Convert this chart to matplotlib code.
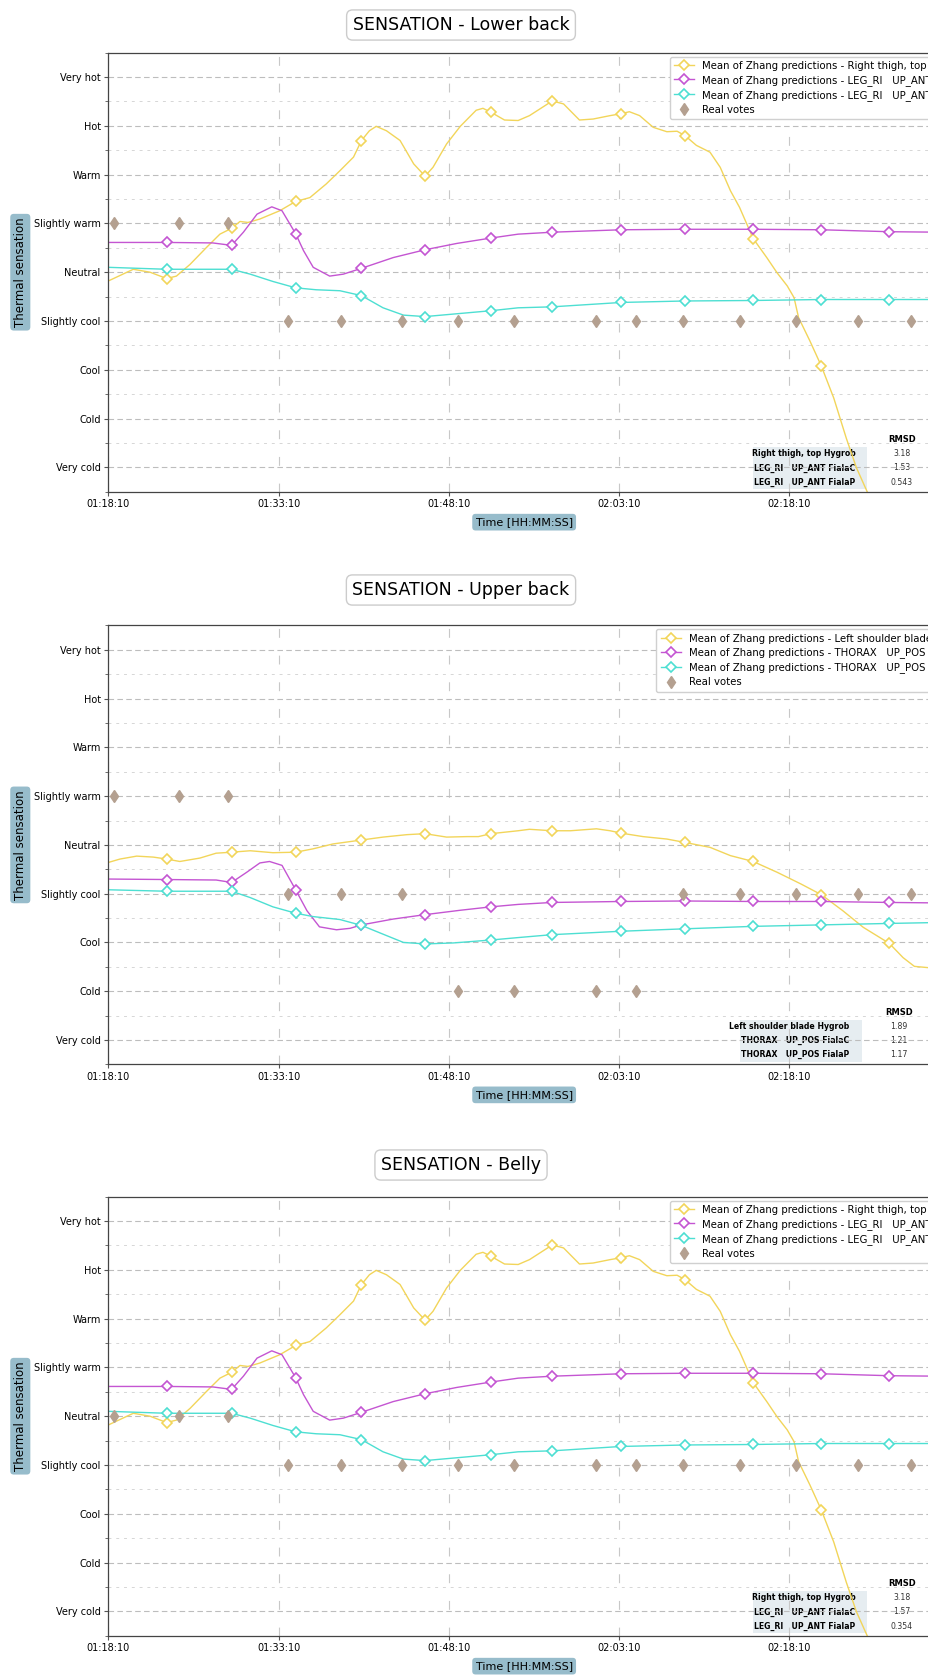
import matplotlib
matplotlib.use("Agg")
import matplotlib.pyplot as plt
from matplotlib.ticker import MultipleLocator

# time axis: minutes after 01:18:10
time_ticks = [0, 15, 30, 45, 60]
time_labels = ["01:18:10", "01:33:10", "01:48:10", "02:03:10", "02:18:10"]
sens_ticks = [-4, -3, -2, -1, 0, 1, 2, 3, 4]
sens_labels = ["Very cold", "Cold", "Cool", "Slightly cool", "Neutral",
               "Slightly warm", "Warm", "Hot", "Very hot"]

# times where the prediction curves carry a marker
mark_t = [5.14, 10.86, 16.5, 22.3, 27.9, 33.7, 39.1, 45.2, 50.8, 56.8, 62.8, 68.8]

# Right thigh, top (Hygrob)
thigh_t = [0, 2.2, 3.67, 5.14, 6.0, 7.2, 8.66, 9.83, 10.86, 11.6, 12.3, 13.35, 15.1,
           16.5, 17.76, 19.2, 20.4, 21.6, 22.3, 23.0, 23.6, 24.5, 25.7, 26.9, 27.9,
           28.6, 29.8, 31.0, 32.4, 33.0, 33.7, 34.9, 36.1, 37.1, 39.1, 40.1, 41.5,
           42.7, 44.2, 45.2, 45.9, 46.8, 48.0, 49.2, 50.1, 50.8, 51.8, 53.0, 53.9,
           54.8, 55.6, 56.8, 58.0, 58.9, 59.8, 60.4, 60.8, 61.8, 62.8, 63.9, 65.0,
           65.9, 66.9, 67.3]
thigh_v = [-0.18, 0.06, 0.0, -0.13, -0.08, 0.16, 0.51, 0.78, 0.9, 1.04, 1.02, 1.09, 1.26,
           1.45, 1.53, 1.81, 2.08, 2.36, 2.70, 2.90, 2.99, 2.90, 2.70, 2.22, 1.97,
           2.15, 2.63, 2.99, 3.32, 3.36, 3.28, 3.12, 3.11, 3.21, 3.51, 3.45, 3.12,
           3.14, 3.21, 3.25, 3.29, 3.21, 2.97, 2.88, 2.89, 2.80, 2.60, 2.46, 2.15,
           1.67, 1.33, 0.69, 0.30, -0.01, -0.28, -0.52, -0.93, -1.41, -1.92, -2.58, -3.40,
           -4.01, -4.53, -4.8]

# LEG_RI UP_ANT FialaC
legc_t = [0, 5.14, 9.2, 10.86, 11.9, 13.1, 14.4, 15.3, 16.5, 17.2, 18.05, 19.5, 20.7,
          22.3, 25.1, 27.9, 30.7, 33.7, 36.1, 39.1, 45.2, 50.8, 56.8, 62.8, 68.8, 73.3]
legc_v = [0.61, 0.61, 0.60, 0.55, 0.82, 1.19, 1.34, 1.26, 0.79, 0.44, 0.10, -0.08, -0.04,
          0.08, 0.30, 0.46, 0.59, 0.70, 0.78, 0.82, 0.87, 0.88, 0.88, 0.87, 0.83, 0.82]

# LEG_RI UP_ANT FialaP
legp_t = [0, 5.14, 10.86, 12.5, 14.5, 16.5, 18.3, 20.4, 22.3, 24.2, 26.0, 27.9, 30.8,
          33.7, 36.1, 39.1, 45.2, 50.8, 56.8, 62.8, 68.8, 73.3]
legp_v = [0.10, 0.06, 0.06, -0.04, -0.19, -0.32, -0.36, -0.38, -0.48, -0.73, -0.88, -0.91,
          -0.85, -0.79, -0.73, -0.71, -0.62, -0.59, -0.58, -0.56, -0.56, -0.56]

# Left shoulder blade (Hygrob)
shoulder_t = [0, 1.03, 2.5, 3.96, 5.14, 6.3, 8.07, 9.5, 10.86, 12.5, 14.5, 16.5, 18.05,
              19.8, 22.3, 24.2, 26.3, 27.9, 29.8, 31.6, 32.6, 33.7, 36.1, 37.1, 39.1,
              40.7, 43.0, 44.2, 45.2, 47.1, 49.2, 50.8, 53.0, 54.8, 56.8, 58.9, 61.0,
              62.8, 64.7, 66.5, 68.8, 70.0, 71.0, 73.3]
shoulder_v = [-0.36, -0.29, -0.23, -0.25, -0.29, -0.34, -0.27, -0.17, -0.15, -0.12, -0.16,
              -0.15, -0.08, 0.02, 0.10, 0.16, 0.21, 0.23, 0.16, 0.17, 0.17, 0.23, 0.29,
              0.32, 0.29, 0.29, 0.33, 0.29, 0.24, 0.17, 0.12, 0.05, -0.05, -0.22, -0.34,
              -0.56, -0.80, -1.02, -1.35, -1.69, -2.02, -2.31, -2.49, -2.54]

# THORAX UP_POS FialaC
thoc_t = [0, 5.14, 9.5, 10.86, 12.2, 13.35, 14.2, 15.3, 16.5, 17.5, 18.6, 20.1, 21.3,
          22.3, 25.1, 27.9, 31.0, 33.7, 36.1, 39.1, 45.2, 50.8, 56.8, 62.8, 68.8, 73.3]
thoc_v = [-0.70, -0.71, -0.72, -0.77, -0.56, -0.37, -0.34, -0.42, -0.92, -1.35, -1.68,
          -1.74, -1.71, -1.64, -1.52, -1.43, -1.34, -1.27, -1.22, -1.18, -1.16, -1.15,
          -1.16, -1.16, -1.18, -1.19]

# THORAX UP_POS FialaP
thop_t = [0, 5.14, 10.86, 12.5, 14.5, 16.5, 18.05, 20.4, 22.3, 24.2, 26.0, 27.9, 30.4,
          33.7, 36.1, 39.1, 45.2, 50.8, 56.8, 62.8, 68.8, 73.3]
thop_v = [-0.92, -0.95, -0.95, -1.08, -1.27, -1.40, -1.47, -1.53, -1.65, -1.83, -2.00,
          -2.03, -2.01, -1.95, -1.90, -1.84, -1.77, -1.72, -1.67, -1.64, -1.61, -1.59]

# real votes
vote_t = [0.5, 6.25, 10.5, 15.8, 20.5, 25.9, 30.8, 35.75, 42.96, 46.5, 50.65, 55.6,
          60.6, 66.0, 70.7]
votes_lower = [1, 1, 1, -1, -1, -1, -1, -1, -1, -1, -1, -1, -1, -1, -1]
votes_upper = [1, 1, 1, -1, -1, -1, -3, -3, -3, -3, -1, -1, -1, -1, -1]
votes_belly = [0, 0, 0, -1, -1, -1, -1, -1, -1, -1, -1, -1, -1, -1, -1]

rmsd_lower = ["3.18", "1.53", "0.543"]
rmsd_upper = ["1.89", "1.21", "1.17"]
rmsd_belly = ["3.18", "1.57", "0.354"]
rows_leg = ["Right thigh, top Hygrob", "LEG_RI   UP_ANT FialaC", "LEG_RI   UP_ANT FialaP"]
rows_thorax = ["Left shoulder blade Hygrob", "THORAX   UP_POS FialaC", "THORAX   UP_POS FialaP"]

labels_leg = ["Mean of Zhang predictions - Right thigh, top",
              "Mean of Zhang predictions - LEG_RI   UP_ANT",
              "Mean of Zhang predictions - LEG_RI   UP_ANT"]
labels_thorax = ["Mean of Zhang predictions - Left shoulder blade",
                 "Mean of Zhang predictions - THORAX   UP_POS",
                 "Mean of Zhang predictions - THORAX   UP_POS"]

YELLOW = "#f2d55a"
PURPLE = "#c455d2"
CYAN = "#4ddfd2"
VOTE = "#b4a090"
BOX = "#97bccb"

panels = [
    ("SENSATION - Lower back", [(thigh_t, thigh_v), (legc_t, legc_v), (legp_t, legp_v)],
     labels_leg, votes_lower, rows_leg, rmsd_lower, 0.775),
    ("SENSATION - Upper back", [(shoulder_t, shoulder_v), (thoc_t, thoc_v), (thop_t, thop_v)],
     labels_thorax, votes_upper, rows_thorax, rmsd_upper, 0.759),
    ("SENSATION - Belly", [(thigh_t, thigh_v), (legc_t, legc_v), (legp_t, legp_v)],
     labels_leg, votes_belly, rows_leg, rmsd_belly, 0.775),
]

W, H = 929, 1677
fig = plt.figure(figsize=(W / 100, H / 100), dpi=100)

ax_left, ax_right, ax_h = 108.3, 940.0, 439.0
tops = [52.7, 625.4, 1196.7]
title_y = [25, 590, 1165]

for k, (title, series, labels, votes, rows, rmsd, tab_x0) in enumerate(panels):
    ax = fig.add_axes([ax_left / W, 1 - (tops[k] + ax_h) / H,
                       (ax_right - ax_left) / W, ax_h / H])

    for (t, v), lab, col in zip(series, labels, [YELLOW, PURPLE, CYAN]):
        idx = [i for i, x in enumerate(t) if x in mark_t]
        ax.plot(t, v, color=col, lw=1.0, marker="D", ms=5.6, mfc="white",
                mec=col, mew=1.2, markevery=idx, label=lab)
    ax.plot(vote_t, votes, ls="none", marker="d", ms=6, color=VOTE, label="Real votes")

    ax.set_xlim(0, (ax_right - ax_left) / 11.353)
    ax.set_ylim(-4.5, 4.5)
    ax.set_xticks(time_ticks)
    ax.set_xticklabels(time_labels)
    ax.set_yticks(sens_ticks)
    ax.set_yticklabels(sens_labels)
    ax.yaxis.set_minor_locator(MultipleLocator(0.5))
    ax.tick_params(axis="both", which="major", labelsize=7, length=3, pad=2.5,
                   color="#555555")
    ax.tick_params(axis="y", which="minor", length=2, color="#555555")

    ax.grid(axis="y", which="major", color="#bdbdbd", ls=(0, (5, 3)), lw=0.8)
    ax.grid(axis="y", which="minor", color="#d6d6d6", ls=(0, (3, 5)), lw=0.7)
    ax.grid(axis="x", which="major", color="#c8c8c8", ls=(0, (8, 16)), lw=0.8)
    ax.set_axisbelow(True)
    for s in ax.spines.values():
        s.set_color("#444444")
        s.set_linewidth(0.9)

    ax.set_ylabel("Thermal sensation", fontsize=8.5,
                  bbox=dict(boxstyle="round,pad=0.3", fc=BOX, ec="none"))
    ax.yaxis.set_label_coords(-0.098, 0.5)
    ax.set_xlabel("Time [HH:MM:SS]", fontsize=8,
                  bbox=dict(boxstyle="round,pad=0.3", fc=BOX, ec="none"))
    ax.xaxis.set_label_coords(0.5, -0.058)

    ax.legend(loc="upper right", fontsize=7.3, framealpha=1, edgecolor="#d0d0d0",
              borderaxespad=0.4, labelspacing=0.4, handletextpad=0.8)

    tab = ax.table(cellText=[[r, val] for r, val in zip(rows, rmsd)],
                   colLabels=["", "RMSD"], colWidths=[0.62, 0.38], cellLoc="center",
                   bbox=[tab_x0, 0.006, 0.996 - tab_x0, 0.128])
    tab.auto_set_font_size(False)
    tab.set_fontsize(5.6)
    for (r, c), cell in tab.get_celld().items():
        cell.set_edgecolor("none")
        cell.set_facecolor("none")
        txt = cell.get_text()
        if r == 0:
            txt.set_fontweight("bold")
            txt.set_fontsize(6)
        elif c == 0:
            cell.set_facecolor("#e6edf1")
            txt.set_fontweight("bold")
            cell._loc = "right"
            txt.set_ha("right")
        else:
            txt.set_color("#333333")

    fig.text(461 / W, 1 - title_y[k] / H, title, ha="center", va="center", fontsize=12.5,
             bbox=dict(boxstyle="round,pad=0.35", fc="white", ec="#cccccc"))

fig.savefig("out.png", dpi=100)
